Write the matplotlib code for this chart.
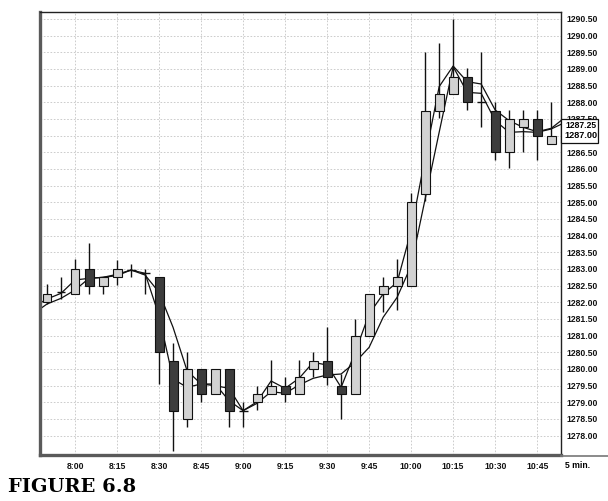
import numpy as np
import matplotlib
matplotlib.use("Agg")
import matplotlib.pyplot as plt
from matplotlib.patches import Rectangle
from matplotlib.lines import Line2D
from matplotlib.transforms import blended_transform_factory

# 5-minute bars, 7:50 .. 10:50
times = ["7:50", "7:55", "8:00", "8:05", "8:10", "8:15", "8:20", "8:25", "8:30", "8:35",
         "8:40", "8:45", "8:50", "8:55", "9:00", "9:05", "9:10", "9:15", "9:20", "9:25",
         "9:30", "9:35", "9:40", "9:45", "9:50", "9:55", "10:00", "10:05", "10:10", "10:15",
         "10:20", "10:25", "10:30", "10:35", "10:40", "10:45", "10:50"]
opens = [1282.00, 1282.30, 1282.25, 1283.00, 1282.50, 1282.75, 1282.97, 1282.87, 1282.75, 1280.25,
         1278.50, 1280.00, 1279.25, 1280.00, 1278.75, 1279.00, 1279.25, 1279.50, 1279.25, 1280.00,
         1280.25, 1279.50, 1279.25, 1281.00, 1282.25, 1282.50, 1282.50, 1285.25, 1287.75, 1288.25,
         1288.75, 1288.00, 1287.75, 1286.50, 1287.25, 1287.50, 1286.75]
highs = [1282.55, 1282.77, 1283.30, 1283.78, 1282.75, 1283.27, 1283.15, 1283.00, 1282.77, 1280.77,
         1280.52, 1280.00, 1280.00, 1280.00, 1279.00, 1279.50, 1280.27, 1279.77, 1280.27, 1280.52,
         1281.27, 1279.85, 1281.50, 1282.25, 1282.77, 1283.30, 1285.27, 1289.52, 1289.77, 1290.50,
         1289.02, 1289.52, 1288.02, 1287.77, 1287.77, 1287.77, 1288.02]
lows = [1281.95, 1282.10, 1282.25, 1282.25, 1282.25, 1282.52, 1282.77, 1282.25, 1279.55, 1277.55,
        1278.25, 1279.00, 1279.25, 1278.25, 1278.25, 1278.77, 1279.25, 1279.02, 1279.25, 1279.77,
        1279.52, 1278.50, 1279.25, 1281.00, 1281.72, 1281.77, 1282.50, 1285.05, 1287.52, 1288.25,
        1287.77, 1287.25, 1286.27, 1286.02, 1286.52, 1286.27, 1286.75]
closes = [1282.25, 1282.30, 1283.00, 1282.50, 1282.75, 1283.00, 1282.97, 1282.87, 1280.50, 1278.75,
          1280.00, 1279.25, 1280.00, 1278.75, 1278.75, 1279.25, 1279.50, 1279.25, 1279.75, 1280.25,
          1279.75, 1279.25, 1281.00, 1282.25, 1282.50, 1282.75, 1285.00, 1287.75, 1288.25, 1288.75,
          1288.00, 1288.00, 1286.50, 1287.50, 1287.50, 1287.00, 1287.00]

# two moving averages, one value before the first bar and one after the last
fast_ma = [1281.85, 1282.10, 1282.27, 1282.67, 1282.72, 1282.75, 1282.84, 1282.97, 1282.87, 1281.60,
           1279.70, 1279.45, 1279.55, 1279.55, 1279.05, 1278.75, 1279.02, 1279.64, 1279.42, 1279.72,
           1280.20, 1280.12, 1279.45, 1280.50, 1281.65, 1282.25, 1282.60, 1284.15, 1286.35, 1288.47,
           1289.09, 1288.62, 1288.55, 1287.77, 1287.45, 1287.25, 1287.12, 1287.22, 1287.55]
slow_ma = [1281.65, 1281.95, 1282.12, 1282.37, 1282.72, 1282.75, 1282.80, 1282.97, 1282.82, 1282.30,
           1281.25, 1279.95, 1279.55, 1279.50, 1279.42, 1278.75, 1278.97, 1279.32, 1279.27, 1279.52,
           1279.72, 1279.82, 1279.85, 1280.20, 1280.65, 1281.55, 1282.15, 1283.10, 1285.10, 1287.10,
           1289.07, 1288.30, 1288.27, 1287.45, 1287.10, 1287.12, 1287.10, 1287.20, 1287.40]

last_price = 1287.00

light = "#d2d2d2"
dark = "#3c3c3c"
font = ["Liberation Sans", "DejaVu Sans"]
fs = 6.2

fig = plt.figure(figsize=(6.08, 5.01), dpi=100)
ax = fig.add_axes([40 / 608, 1 - 455 / 501, (561 - 40) / 608, (455 - 12) / 501])

x = np.arange(len(times))
xm = np.arange(-1, len(fast_ma) - 1)

ax.plot(xm, fast_ma, color="#111111", lw=0.9, zorder=2)
ax.plot(xm, slow_ma, color="#111111", lw=0.9, zorder=2)

o = np.array(opens)
c = np.array(closes)
ax.vlines(x, lows, highs, color="#111111", lw=1.0, zorder=3)
up = c > o
down = c < o
doji = c == o
ax.bar(x[up], (c - o)[up], bottom=o[up], width=0.64, color=light,
       edgecolor="#111111", linewidth=0.8, zorder=4)
ax.bar(x[down], (o - c)[down], bottom=c[down], width=0.64, color=dark,
       edgecolor="#111111", linewidth=0.8, zorder=4)
ax.hlines(c[doji], x[doji] - 0.32, x[doji] + 0.32, color="#111111", lw=1.0, zorder=4)

ax.set_xlim(-0.5, 36.7)
ax.set_ylim(1277.42, 1290.71)

tick_idx = list(range(2, len(times), 3))
ax.set_xticks(tick_idx)
ax.set_xticklabels([times[i] for i in tick_idx], family=font, fontsize=fs, fontweight="bold")
yt = np.arange(1278.0, 1290.51, 0.5)
ax.set_yticks(yt)
ax.set_yticklabels(["%.2f" % v for v in yt], family=font, fontsize=fs, fontweight="bold")
ax.yaxis.tick_right()
ax.tick_params(axis="both", length=0, colors="#111111")
ax.tick_params(axis="y", pad=4)
ax.tick_params(axis="x", pad=5)

ax.grid(True, color="#c4c4c4", linestyle=(0, (2, 2)), lw=0.6)
ax.set_axisbelow(True)

for s in ["left", "bottom"]:
    ax.spines[s].set_color("#5a5a5a")
    ax.spines[s].set_linewidth(2.4)
for s in ["top", "right"]:
    ax.spines[s].set_color("#222222")
    ax.spines[s].set_linewidth(1.0)

# current price box on the price scale
bt = blended_transform_factory(fig.transFigure, ax.transData)
x0 = 561 / 608
box = Rectangle((x0, 1286.77), 598 / 608 - x0, 1287.5 - 1286.77, transform=bt,
                facecolor="white", edgecolor="#111111", lw=0.9, zorder=5)
fig.add_artist(box)
fig.text(565 / 608, 1287.29, "1287.25", transform=bt, va="center", ha="left",
         family=font, fontsize=fs, fontweight="bold", zorder=6, clip_path=box)
fig.text(564 / 608, last_price, "%.2f" % last_price, transform=bt, va="center", ha="left",
         family=font, fontsize=6.6, fontweight="bold", zorder=6)

fig.add_artist(Line2D([x0, 1.0], [1 - 456 / 501] * 2, transform=fig.transFigure,
                      color="#777777", lw=1.2))
fig.text(565 / 608, 1 - 466 / 501, "5 min.", family=font, fontsize=fs,
         fontweight="bold", va="center", ha="left")

fig.text(8 / 608, 1 - 487 / 501, "FIGURE 6.8", family="DejaVu Serif", fontsize=14,
         fontweight="heavy", va="center", ha="left")

fig.savefig("out.png", dpi=100)
